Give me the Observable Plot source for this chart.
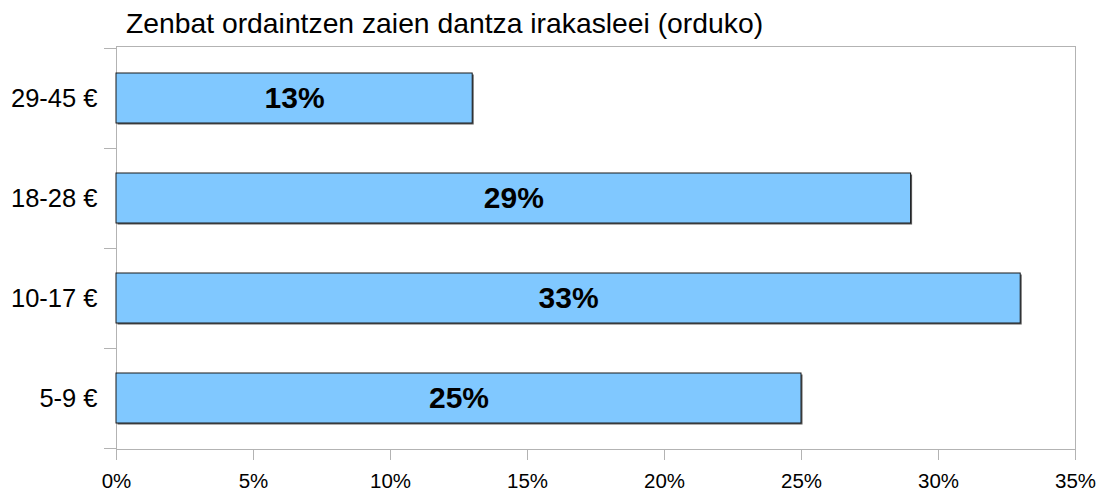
<!DOCTYPE html>
<html>
<head>
<meta charset="utf-8">
<script src="https://cdn.jsdelivr.net/npm/d3@7"></script>
<script src="https://cdn.jsdelivr.net/npm/@observablehq/plot@0.6"></script>
<style>
  html, body { margin: 0; padding: 0; background: #fff; }
  #title { height: 40px; box-sizing: border-box; padding: 3px 0 0 126px; font: 28.3px "Liberation Sans", Arial, sans-serif; line-height: 40px; color: #000; white-space: nowrap; overflow: visible; }
</style>
</head>
<body>
<div id="title">Zenbat ordaintzen zaien dantza irakasleei (orduko)</div>
<div id="chart"></div>
<script>
const titleText = "Zenbat ordaintzen zaien dantza irakasleei (orduko)";
const categories = ["29-45 €", "18-28 €", "10-17 €", "5-9 €"];
const values = [13, 29, 33, 25];
const xTicks = [0, 5, 10, 15, 20, 25, 30, 35];

const data = categories.map((c, i) => ({cat: c, value: values[i]}));
const grey = "#b3b3b3";

const chart = Plot.plot({
  width: 1098,
  height: 452,
  marginTop: 6,
  marginBottom: 43,
  marginLeft: 116,
  marginRight: 23,
  style: {fontFamily: "'Liberation Sans', Arial, sans-serif", fontSize: "20px", color: "#000", background: "#fff"},
  x: {domain: [0, 35], label: null},
  y: {domain: categories, type: "band", paddingInner: 0.5, paddingOuter: 0.25, align: 0.5, label: null},
  marks: [
    Plot.frame({stroke: grey}),
    Plot.axisY({tickSize: 12, tickFormat: () => "", stroke: grey, dy: -50, label: null}),
    Plot.axisY({ticks: [categories[categories.length - 1]], tickSize: 12, tickFormat: () => "", stroke: grey, dy: 50, label: null}),
    Plot.axisY({tickSize: 0, tickPadding: 19, fontSize: 25.5, fill: "#000", label: null}),
    Plot.axisX({ticks: xTicks, tickFormat: d => d + "%", tickSize: 11, tickPadding: 13, stroke: grey, fill: "#000", fontSize: 20.5, label: null}),
    Plot.barX(data, {y: "cat", x: "value", fill: "#5a5a5a", dx: 1.5, dy: 1.5}),
    Plot.barX(data, {y: "cat", x: "value", fill: "#80c8ff", stroke: "#1a1a1a", strokeWidth: 1}),
    Plot.text(data, {y: "cat", x: d => d.value / 2, text: d => d.value + "%", fontSize: 30, fontWeight: "bold", fill: "#000"})
  ]
});
document.getElementById("chart").appendChild(chart);
</script>
</body>
</html>
